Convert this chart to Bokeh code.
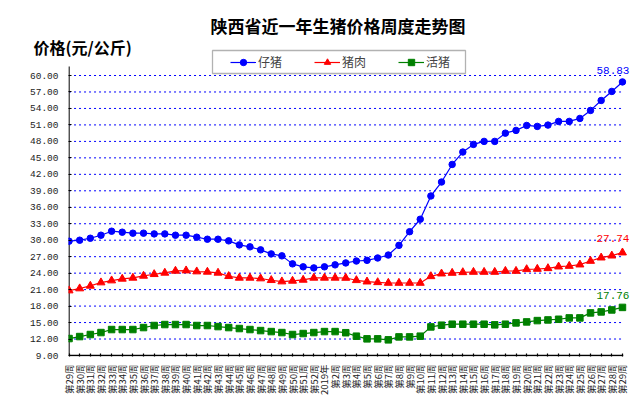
import math
from bokeh.plotting import figure
from bokeh.models import (FixedTicker, Label, Legend, LegendItem, BoxAnnotation,
                          Range1d, PrintfTickFormatter, Title)
from bokeh.embed import file_html
from bokeh.resources import INLINE

weeks = ["第29周", "第30周", "第31周", "第32周", "第33周", "第34周", "第35周", "第36周",
         "第37周", "第38周", "第39周", "第40周", "第41周", "第42周", "第43周", "第44周",
         "第45周", "第46周", "第47周", "第48周", "第49周", "第50周", "第51周", "第52周",
         "2019年", "第2周", "第3周", "第4周", "第5周", "第6周", "第7周", "第8周",
         "第9周", "第10周", "第11周", "第12周", "第13周", "第14周", "第15周", "第16周",
         "第17周", "第18周", "第19周", "第20周", "第21周", "第22周", "第23周", "第24周",
         "第25周", "第26周", "第27周", "第28周", "第29周"]

piglet = [29.82, 30.00, 30.36, 30.91, 31.64, 31.46, 31.28, 31.28, 31.15, 31.15,
          30.91, 30.91, 30.55, 30.18, 30.18, 29.88, 29.15, 28.79, 28.24, 27.51,
          27.15, 25.69, 25.15, 24.96, 25.15, 25.51, 25.86, 26.21, 26.33, 26.76,
          27.30, 29.06, 31.55, 33.82, 38.06, 40.60, 43.80, 46.06, 47.45, 48.00,
          48.00, 49.50, 50.00, 50.90, 50.73, 50.97, 51.64, 51.64, 52.18, 53.64,
          55.45, 57.10, 58.83]

pork = [20.83, 21.20, 21.68, 22.29, 22.65, 22.96, 23.14, 23.50, 23.80, 24.05,
        24.41, 24.47, 24.29, 24.23, 24.05, 23.44, 23.14, 23.14, 23.02, 22.71,
        22.47, 22.59, 22.77, 23.14, 23.14, 23.14, 23.12, 22.70, 22.45, 22.33,
        22.21, 22.21, 22.21, 22.21, 23.42, 23.91, 24.03, 24.15, 24.21, 24.21,
        24.21, 24.39, 24.39, 24.70, 24.76, 24.88, 25.18, 25.30, 25.55, 26.21,
        26.82, 27.18, 27.74]

hog = [12.09, 12.45, 12.82, 13.18, 13.73, 13.73, 13.73, 14.09, 14.46, 14.64,
       14.64, 14.64, 14.46, 14.46, 14.27, 14.09, 13.91, 13.73, 13.54, 13.36,
       13.18, 12.82, 13.00, 13.18, 13.36, 13.36, 13.15, 12.52, 12.03, 12.03,
       11.85, 12.39, 12.39, 12.52, 14.21, 14.52, 14.70, 14.70, 14.70, 14.70,
       14.58, 14.70, 14.94, 15.12, 15.36, 15.48, 15.60, 15.85, 15.85, 16.76,
       16.94, 17.30, 17.76]

y_ticks = [9, 12, 15, 18, 21, 24, 27, 30, 33, 36, 39, 42, 45, 48, 51, 54, 57, 60]
y_axis_top = 61.64
series_names = ["仔猪", "猪肉", "活猪"]
title_text = "陕西省近一年生猪价格周度走势图"
unit_text = "价格(元/公斤)"

x = list(range(len(weeks)))
last = len(weeks) - 1

CJK = "Noto Sans CJK SC"
MONO = "Liberation Mono"

p = figure(width=637, height=404, output_backend="svg", toolbar_location=None,
           title=None,
           x_range=Range1d(-0.05, 52.85), y_range=Range1d(8.818, 64.92),
           min_border_left=68, min_border_right=6, min_border_top=48,
           min_border_bottom=48, background_fill_color="white",
           border_fill_color="white")
p.outline_line_color = None

# x axis (line drawn separately so it stops at the last category)
p.xaxis.ticker = FixedTicker(ticks=x)
p.xaxis.major_label_overrides = {i: w for i, w in zip(x, weeks)}
p.xaxis.major_label_orientation = math.pi / 2
p.xaxis.major_tick_in = 3
p.xaxis.major_tick_out = 0
p.xaxis.major_tick_line_width = 1.2
p.xaxis.minor_tick_line_color = None
p.xaxis.major_label_standoff = 8
p.xaxis.major_label_text_font = CJK
p.xaxis.major_label_text_font_size = "9.5px"
p.xaxis.major_label_text_color = "#222222"
p.xaxis.axis_line_color = None

# y axis
p.yaxis.ticker = FixedTicker(ticks=y_ticks)
p.yaxis.formatter = PrintfTickFormatter(format="%.2f")
p.yaxis.major_tick_in = 3
p.yaxis.major_tick_out = 0
p.yaxis.major_tick_line_width = 1.2
p.yaxis.minor_tick_line_color = None
p.yaxis.major_label_standoff = 10
p.yaxis.major_label_text_font = MONO
p.yaxis.major_label_text_font_size = "9.5px"
p.yaxis.major_label_text_color = "#222222"
p.yaxis.axis_line_color = None

p.xgrid.visible = False
p.ygrid.visible = False

# dotted horizontal grid lines, from the first to the last category
grid_y = y_ticks[1:]
p.segment(x0=[x[0]] * len(grid_y), y0=grid_y, x1=[x[last]] * len(grid_y), y1=grid_y,
          line_color="#0000FF", line_dash="2 3", line_width=1)

# axis lines
p.segment(x0=[x[0]], y0=[y_ticks[0]], x1=[x[0]], y1=[y_axis_top],
          line_color="black", line_width=1.3)
p.segment(x0=[x[0]], y0=[y_ticks[0]], x1=[x[last] + 0.07], y1=[y_ticks[0]],
          line_color="black", line_width=1.3)

colors = ["#0000FF", "#FF0000", "#008000"]
markers = ["circle", "triangle", "square"]
sizes = [6.5, 8, 6.5]
items = []
for name, vals, c, m, s in zip(series_names, [piglet, pork, hog], colors, markers, sizes):
    r1 = p.line(x, vals, line_color=c, line_width=1.2)
    r2 = p.scatter(x, vals, marker=m, size=s, fill_color=c, line_color=c)
    items.append(LegendItem(label=name, renderers=[r1, r2]))

legend = Legend(items=items, orientation="horizontal", location=(162, 286),
                border_line_color=None, background_fill_alpha=0, padding=0,
                margin=0, spacing=32, glyph_width=26, glyph_height=16,
                label_standoff=2, label_text_font=CJK, label_text_font_size="12px",
                label_height=16)
p.add_layout(legend)

box = BoxAnnotation(left=212, right=465, top=50, bottom=73,
                    left_units="canvas", right_units="canvas",
                    top_units="canvas", bottom_units="canvas",
                    fill_alpha=0, fill_color=None, line_color="black", line_width=1.3)
p.add_layout(box)

# header texts in the panel above the plot
unit_title = Title(text=unit_text, align="left", offset=-35, standoff=-20,
                   vertical_align="bottom", text_font=CJK, text_font_size="16px",
                   text_font_style="bold", text_color="black")
main_title = Title(text=title_text, align="left", offset=142, standoff=9,
                   vertical_align="bottom", text_font=CJK, text_font_size="17px",
                   text_font_style="bold", text_color="black")
p.add_layout(unit_title, "above")
p.add_layout(main_title, "above")

label_dy = [11, 14, 12]
for vals, c, dy in zip([piglet, pork, hog], colors, label_dy):
    p.add_layout(Label(x=last, y=vals[last], x_offset=7, y_offset=dy,
                       text="%.2f" % vals[last], text_align="right",
                       text_baseline="middle", text_font=MONO,
                       text_font_size="11px", text_color=c))

open("out.html", "w").write(file_html(p, INLINE))
